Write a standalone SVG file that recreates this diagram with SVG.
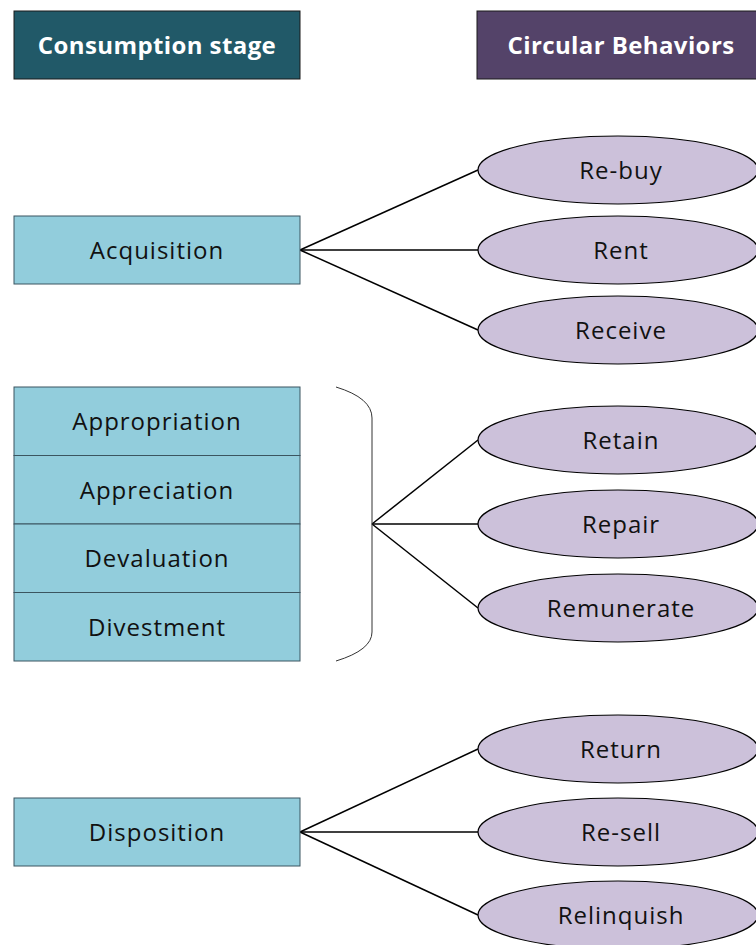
<svg xmlns="http://www.w3.org/2000/svg" width="756" height="945" viewBox="0 0 756 945">
<style>
.hdr{stroke:#1a1a1a;stroke-width:1}
.stage{fill:#92CDDC;stroke:#3b5560;stroke-width:1}
.beh{fill:#CCC1DA;stroke:#000;stroke-width:1.2}
.conn{stroke:#000;stroke-width:1.5;fill:none}
.brace{stroke:#333;stroke-width:1;fill:none}
text{font-family:"Open Sans","Noto Sans",sans-serif;font-size:24px;fill:#111;text-anchor:middle;dominant-baseline:central;letter-spacing:1px}
.ht{fill:#fff;font-weight:bold;font-size:24px;letter-spacing:0.4px}
</style>
<rect width="756" height="945" fill="#fff"/>
<g id="hdr-stage"><rect class="hdr" x="14" y="11" width="286" height="68" fill="#215968"/><text class="ht" x="157" y="44">Consumption stage</text></g>
<g id="hdr-beh"><rect class="hdr" x="477" y="11" width="290" height="68" fill="#544369"/><text class="ht" x="621" y="44">Circular Behaviors</text></g>

<g id="connectors">
<line class="conn" x1="300" y1="250" x2="478" y2="170"/>
<line class="conn" x1="300" y1="250" x2="478" y2="250"/>
<line class="conn" x1="300" y1="250" x2="478" y2="330"/>
<line class="conn" x1="372" y1="524" x2="478" y2="440"/>
<line class="conn" x1="372" y1="524" x2="478" y2="524"/>
<line class="conn" x1="372" y1="524" x2="478" y2="608"/>
<line class="conn" x1="300" y1="832" x2="478" y2="749"/>
<line class="conn" x1="300" y1="832" x2="478" y2="832"/>
<line class="conn" x1="300" y1="832" x2="478" y2="915"/>
</g>
<g id="brace"><path class="brace" d="M336,387 Q372,398 372,418 L372,632 Q372,650 336,661"/></g>

<g id="acquisition"><rect class="stage" x="14" y="216" width="286" height="68"/><text x="157" y="249">Acquisition</text></g>
<g id="appropriation"><rect class="stage" x="14" y="387" width="286" height="68.5"/><text x="157" y="420">Appropriation</text></g>
<g id="appreciation"><rect class="stage" x="14" y="455.5" width="286" height="68.5"/><text x="157" y="489">Appreciation</text></g>
<g id="devaluation"><rect class="stage" x="14" y="524" width="286" height="68.5"/><text x="157" y="557">Devaluation</text></g>
<g id="divestment"><rect class="stage" x="14" y="592.5" width="286" height="68.5"/><text x="157" y="626">Divestment</text></g>
<g id="disposition"><rect class="stage" x="14" y="798" width="286" height="68"/><text x="157" y="831">Disposition</text></g>

<g id="rebuy"><ellipse class="beh" cx="618" cy="170" rx="140" ry="34"/><text x="621" y="169">Re-buy</text></g>
<g id="rent"><ellipse class="beh" cx="618" cy="250" rx="140" ry="34"/><text x="621" y="249">Rent</text></g>
<g id="receive"><ellipse class="beh" cx="618" cy="330" rx="140" ry="34"/><text x="621" y="329">Receive</text></g>
<g id="retain"><ellipse class="beh" cx="618" cy="440" rx="140" ry="34"/><text x="621" y="439">Retain</text></g>
<g id="repair"><ellipse class="beh" cx="618" cy="524" rx="140" ry="34"/><text x="621" y="523">Repair</text></g>
<g id="remunerate"><ellipse class="beh" cx="618" cy="608" rx="140" ry="34"/><text x="621" y="607">Remunerate</text></g>
<g id="return"><ellipse class="beh" cx="618" cy="749" rx="140" ry="34"/><text x="621" y="748">Return</text></g>
<g id="resell"><ellipse class="beh" cx="618" cy="832" rx="140" ry="34"/><text x="621" y="831">Re-sell</text></g>
<g id="relinquish"><ellipse class="beh" cx="618" cy="915" rx="140" ry="34"/><text x="621" y="914">Relinquish</text></g>
</svg>
